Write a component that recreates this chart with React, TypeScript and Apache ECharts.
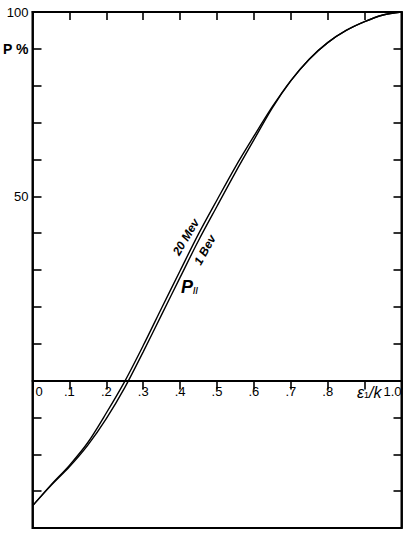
import React, { useEffect, useRef } from "react";
import * as echarts from "echarts";

// x: epsilon_1 / k
const energyRatio = [0, 0.05, 0.1, 0.15, 0.2, 0.25, 0.3, 0.35, 0.4, 0.45, 0.5, 0.55, 0.6, 0.65, 0.7, 0.75, 0.8, 0.85, 0.9, 0.95, 1.0];
// P (percent) for 20 MeV
const p20MeV = [-34, -28.3, -23, -16.8, -8.8, -0.2, 9.5, 19.7, 29.8, 39.8, 49, 58, 66.3, 74.3, 81.4, 87.2, 91.7, 95, 97.4, 99.2, 100];
// P (percent) for 1 BeV
const p1BeV = [-34, -28.5, -23.4, -17.5, -10.3, -1.9, 7.8, 17.9, 28, 38, 47.3, 56.5, 65.3, 74.0, 81.3, 87.2, 91.7, 95, 97.4, 99.2, 100];

const xTickLabels: Record<string, string> = {
  "0": "{z|0}", "0.1": ".1", "0.2": ".2", "0.3": ".3", "0.4": ".4", "0.5": ".5",
  "0.6": ".6", "0.7": ".7", "0.8": ".8", "0.9": "", "1": "1.0",
};
const yTickLabels: Record<string, string> = { "100": "100", "90": "{p|P %}", "50": "50" };

const Y_MIN = -40;
const Y_MAX = 100;
const FONT = "'Liberation Sans', Arial, sans-serif";

export default function App() {
  const ref = useRef<HTMLDivElement>(null);
  useEffect(() => {
    if (!ref.current) return;
    const chart = echarts.init(ref.current, undefined, { renderer: "svg" });
    const gridTop = 12;
    const gridBottom = 8;
    const plotH = 536 - gridTop - gridBottom;
    // move the main x axis up from the bottom edge to the P = 0 line
    const zeroOffset = -(plotH * (0 - Y_MIN)) / (Y_MAX - Y_MIN);
    const axisLine = { color: "#000", width: 1.8 };
    const tickStyle = { color: "#000", width: 1.6 };
    chart.setOption({
      animation: false,
      backgroundColor: "#fff",
      grid: {
        left: 32.5, right: 7.5, top: gridTop, bottom: gridBottom,
        outerBoundsMode: "none", containLabel: false,
        show: true, borderColor: "#000", borderWidth: 2,
      },
      xAxis: [
        {
          type: "value", min: 0, max: 1, interval: 0.1, position: "bottom",
          offset: zeroOffset,
          axisLine: { onZero: false, lineStyle: axisLine },
          axisTick: { show: true, inside: false, length: 9, lineStyle: tickStyle },
          axisLabel: {
            color: "#000", fontSize: 13, fontFamily: FONT, margin: 4,
            showMinLabel: true, showMaxLabel: true,
            alignMinLabel: "left", alignMaxLabel: "right",
            formatter: (v: number) => xTickLabels[String(Math.round(v * 10) / 10)] ?? "",
            rich: { z: { fontSize: 13, fontFamily: FONT, color: "#000", padding: [0, 0, 0, 3] } },
          },
          splitLine: { show: false },
        },
        {
          type: "value", min: 0, max: 1, interval: 0.1, position: "top",
          axisLine: { onZero: false, lineStyle: axisLine },
          axisTick: { inside: true, length: 8, lineStyle: tickStyle },
          axisLabel: { show: false },
          splitLine: { show: false },
        },
      ],
      yAxis: [
        {
          type: "value", min: Y_MIN, max: Y_MAX, interval: 10, position: "left",
          axisLine: { onZero: false, lineStyle: axisLine },
          axisTick: { inside: true, length: 9, lineStyle: tickStyle },
          axisLabel: {
            color: "#000", fontSize: 13, fontFamily: FONT, margin: 4,
            showMaxLabel: true,
            formatter: (v: number) => yTickLabels[String(v)] ?? "",
            rich: { p: { fontSize: 14, fontWeight: "bold", fontFamily: FONT, color: "#000" } },
          },
          splitLine: { show: false },
        },
        {
          type: "value", min: Y_MIN, max: Y_MAX, interval: 10, position: "right",
          axisLine: { onZero: false, lineStyle: axisLine },
          axisTick: { inside: true, length: 8, lineStyle: tickStyle },
          axisLabel: { show: false },
          splitLine: { show: false },
        },
      ],
      series: [
        {
          name: "20 Mev", type: "line", xAxisIndex: 0, yAxisIndex: 0,
          data: energyRatio.map((x, i) => [x, p20MeV[i]]),
          smooth: 0.3, showSymbol: false, symbol: "none",
          lineStyle: { color: "#000", width: 1.4 },
        },
        {
          name: "1 Bev", type: "line", xAxisIndex: 0, yAxisIndex: 0,
          data: energyRatio.map((x, i) => [x, p1BeV[i]]),
          smooth: 0.3, showSymbol: false, symbol: "none",
          lineStyle: { color: "#000", width: 1.4 },
        },
      ],
      graphic: [
        {
          type: "text", x: 186, y: 237, rotation: (59 * Math.PI) / 180,
          style: { text: "20 Mev", font: `italic bold 12px ${FONT}`, fill: "#000", align: "center", verticalAlign: "middle" },
        },
        {
          type: "text", x: 205, y: 250, rotation: (61 * Math.PI) / 180,
          style: { text: "1 Bev", font: `italic bold 12px ${FONT}`, fill: "#000", align: "center", verticalAlign: "middle" },
        },
        {
          type: "text", x: 181, y: 278,
          style: {
            text: "{a|P}{b|//}", fill: "#000",
            rich: {
              a: { fontSize: 18, fontStyle: "italic", fontWeight: "bold", fontFamily: FONT, color: "#000" },
              b: { fontSize: 9, fontWeight: "bold", fontFamily: FONT, color: "#000", padding: [8, 0, 0, 0] },
            },
          },
        },
        {
          type: "text", x: 357, y: 384,
          style: {
            text: "{e|ε}{s|1}{e|/k}", fill: "#000",
            rich: {
              e: { fontSize: 16, fontStyle: "italic", fontFamily: FONT, color: "#000" },
              s: { fontSize: 9, fontFamily: FONT, color: "#000", padding: [6, 0, 0, 0] },
            },
          },
        },
      ],
    });
    return () => chart.dispose();
  }, []);
  return (
    <div
      ref={ref}
      style={{ position: "fixed", left: 0, top: 0, width: 409, height: 536, background: "#fff" }}
    />
  );
}
